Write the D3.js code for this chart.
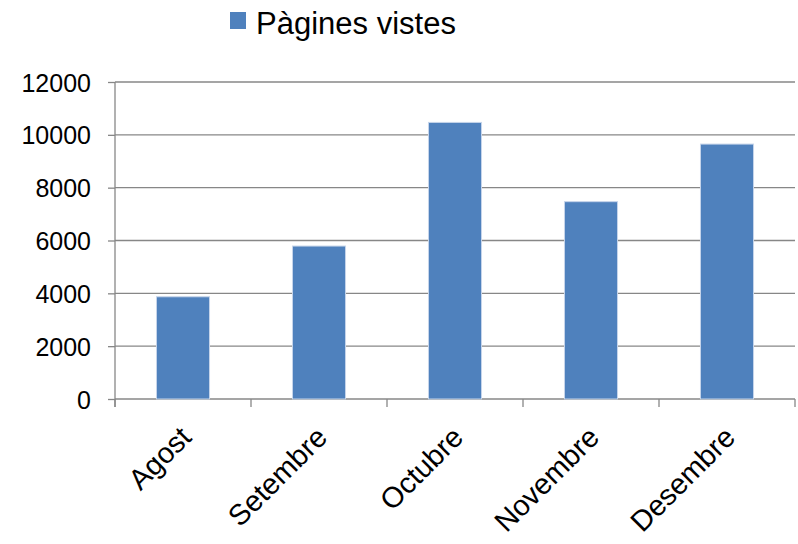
<!DOCTYPE html>
<html>
<head>
<meta charset="utf-8">
<script src="https://cdn.jsdelivr.net/npm/d3@7"></script>
<style>
  body { margin: 0; background: #fff; }
  text { font-family: "Liberation Sans", Arial, sans-serif; fill: #000; }
</style>
</head>
<body>
<svg id="chart" width="798" height="544"></svg>
<script>
// Chart data
var months = ["Agost", "Setembre", "Octubre", "Novembre", "Desembre"];
var pageViews = [3870, 5790, 10470, 7470, 9650];
var yTicks = [0, 2000, 4000, 6000, 8000, 10000, 12000];
var seriesName = "Pàgines vistes";

var svg = d3.select("#chart"),
  plotLeft = 115,
  plotRight = 795,
  plotTop = 82,
  plotBottom = 399,
  barColor = "#4f81bd",
  gridColor = "#878787";

var x = d3.scaleBand()
  .domain(months)
  .range([plotLeft, plotRight])
  .padding(0);

var y = d3.scaleLinear()
  .domain([0, 12000])
  .range([plotBottom, plotTop]);

// Horizontal gridlines
svg.append("g")
  .selectAll("line")
  .data(yTicks.filter(d => d > 0))
  .enter().append("line")
  .attr("x1", plotLeft)
  .attr("x2", plotRight)
  .attr("y1", d => y(d))
  .attr("y2", d => y(d))
  .attr("stroke", gridColor)
  .attr("stroke-width", 1.3);

// Y axis
var yAxis = svg.append("g")
  .attr("transform", "translate(" + plotLeft + ",0)")
  .call(d3.axisLeft(y).tickValues(yTicks).tickSize(7).tickPadding(17).tickFormat(d3.format("d")));
yAxis.select(".domain").attr("stroke", gridColor).attr("stroke-width", 1.3)
  .attr("d", "M0," + plotTop + "V" + (plotBottom + 8));
yAxis.selectAll(".tick line").attr("stroke", gridColor).attr("stroke-width", 1.3);
yAxis.selectAll(".tick text")
  .style("font-size", "25px")
  .style("font-family", "'Liberation Sans', Arial, sans-serif")
  .attr("dy", "0.36em");

// X axis: ticks on the category boundaries
var xAxis = svg.append("g");
xAxis.append("line")
  .attr("x1", plotLeft)
  .attr("x2", plotRight)
  .attr("y1", plotBottom)
  .attr("y2", plotBottom)
  .attr("stroke", gridColor)
  .attr("stroke-width", 1.3);
xAxis.selectAll("line.tick")
  .data(months.concat(["end"]))
  .enter().append("line")
  .attr("class", "tick")
  .attr("x1", (d, i) => plotLeft + i * x.step())
  .attr("x2", (d, i) => plotLeft + i * x.step())
  .attr("y1", plotBottom)
  .attr("y2", plotBottom + 8)
  .attr("stroke", gridColor)
  .attr("stroke-width", 1.3);

xAxis.selectAll("text")
  .data(months)
  .enter().append("text")
  .attr("transform", d => "translate(" + (x(d) + x.bandwidth() / 2 + 10) + "," + (plotBottom + 40) + ") rotate(-45)")
  .attr("text-anchor", "end")
  .style("font-size", "29px")
  .text(d => d);

// Bars
var barWidth = x.bandwidth() * 0.39;
svg.append("g")
  .selectAll("rect")
  .data(pageViews)
  .enter().append("rect")
  .attr("x", (d, i) => x(months[i]) + (x.bandwidth() - barWidth) / 2)
  .attr("y", d => y(d))
  .attr("width", barWidth)
  .attr("height", d => plotBottom - y(d))
  .attr("fill", barColor)
  .attr("stroke", "#c6d5ea")
  .attr("stroke-width", 1);

// Legend
var legend = svg.append("g");
legend.append("rect")
  .attr("x", 230)
  .attr("y", 12)
  .attr("width", 16)
  .attr("height", 17)
  .attr("fill", barColor);
legend.append("text")
  .attr("x", 256)
  .attr("y", 34)
  .style("font-size", "31px")
  .text(seriesName);
</script>
</body>
</html>
